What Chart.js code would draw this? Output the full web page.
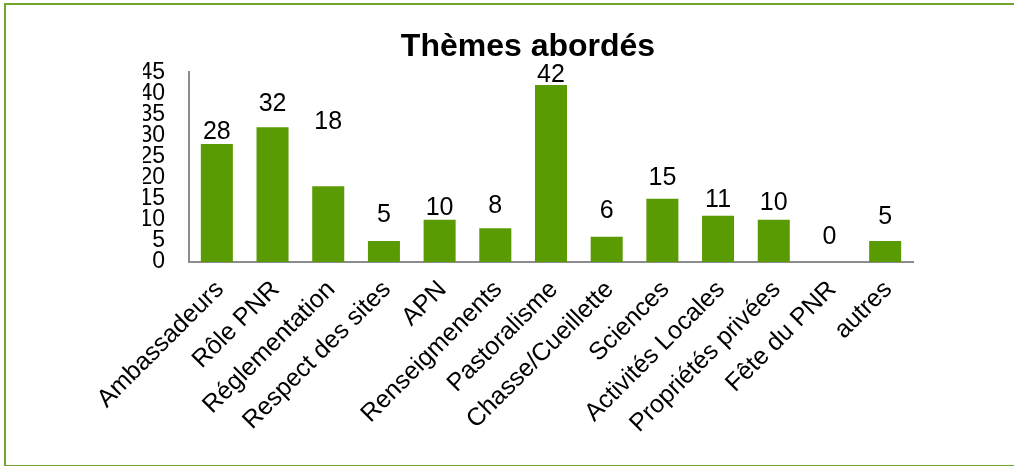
<!DOCTYPE html>
<html>
<head>
<meta charset="utf-8">
<script src="https://cdn.jsdelivr.net/npm/chart.js@4.4.1/dist/chart.umd.min.js"></script>
<style>
  html, body { margin: 0; padding: 0; background: #ffffff; }
  #wrap { position: relative; width: 1014px; height: 466px; overflow: hidden; background: #fff; }
  #frame { position: absolute; left: 4px; top: 3px; width: 1030px; height: 460px; border: 2px solid #71A530; box-sizing: content-box; pointer-events: none; }
  #cv { position: absolute; left: 0; top: 0; }
</style>
</head>
<body>
<div id="wrap">
  <canvas id="cv" width="1014" height="466"></canvas>
  <div id="frame"></div>
</div>
<script>
// ---- data ----
const chartTitle = 'Thèmes abordés';
const categories = ['Ambassadeurs', 'Rôle PNR', 'Réglementation', 'Respect des sites', 'APN',
  'Renseigmenents', 'Pastoralisme', 'Chasse/Cueillette', 'Sciences', 'Activités Locales',
  'Propriétés privées', 'Fête du PNR', 'autres'];
const values = [28, 32, 18, 5, 10, 8, 42, 6, 15, 11, 10, 0, 5];
const yTicks = [0, 5, 10, 15, 20, 25, 30, 35, 40, 45];
// label placement (gap in px from bar top to label centre), styling only
const labelGaps = [12, 23, 64, 26, 12, 22, 10, 26, 21, 16, 17, 25, 24];

const FONT = '"Liberation Sans", Arial, sans-serif';

const valueLabels = {
  id: 'valueLabels',
  afterDatasetsDraw(chart) {
    const ctx = chart.ctx;
    const meta = chart.getDatasetMeta(0);
    ctx.save();
    ctx.font = '25px ' + FONT;
    ctx.fillStyle = '#000';
    ctx.textAlign = 'center';
    ctx.textBaseline = 'middle';
    meta.data.forEach((bar, i) => {
      ctx.fillText(String(values[i]), bar.x, bar.y - labelGaps[i]);
    });
    ctx.restore();
  }
};

new Chart(document.getElementById('cv'), {
  type: 'bar',
  data: {
    labels: categories,
    datasets: [{
      data: values,
      backgroundColor: '#5A9A02',
      borderWidth: 0,
      categoryPercentage: 1,
      barPercentage: 0.575
    }]
  },
  options: {
    responsive: false,
    animation: false,
    devicePixelRatio: 1,
    layout: { padding: { left: 143, right: 101, top: 0, bottom: 0 } },
    plugins: {
      legend: { display: false },
      tooltip: { enabled: false },
      title: {
        display: true,
        text: chartTitle,
        color: '#000',
        font: { family: FONT, size: 32, weight: 'bold' },
        padding: { top: 28, bottom: 6 }
      }
    },
    scales: {
      x: {
        grid: { display: false, drawTicks: false },
        border: { display: true, color: '#8c8c8c', width: 2 },
        ticks: {
          color: '#000',
          font: { family: FONT, size: 25 },
          minRotation: 45,
          maxRotation: 45,
          autoSkip: false,
          padding: 13,
          labelOffset: 3
        },
        afterFit(scale) { scale.height = 204; }
      },
      y: {
        min: 0,
        max: 45,
        grid: { display: false, drawTicks: false },
        border: { display: true, color: '#8c8c8c', width: 2 },
        afterBuildTicks(scale) { scale.ticks = yTicks.map(v => ({ value: v })); },
        ticks: {
          color: '#000',
          font: { family: FONT, size: 23, lineHeight: 1 },
          autoSkip: false,
          padding: 24,
          stepSize: 5
        },
        afterFit(scale) { scale.width = 46; }
      }
    }
  },
  plugins: [valueLabels]
});
</script>
</body>
</html>
